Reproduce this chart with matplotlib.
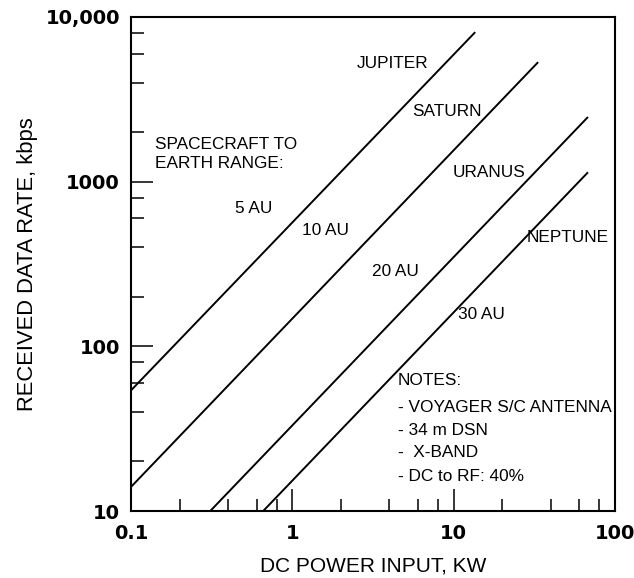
import matplotlib
matplotlib.use("Agg")
import matplotlib.pyplot as plt
from matplotlib.ticker import FixedLocator, NullFormatter

# Data: each line runs from (power_start, rate_start) to (power_end, rate_end)
planets = ["JUPITER", "SATURN", "URANUS", "NEPTUNE"]
ranges = ["5 AU", "10 AU", "20 AU", "30 AU"]
power_start = [0.1, 0.1, 0.31, 0.66]
rate_start = [54, 14, 10, 10]
power_end = [13.6, 33.4, 68, 68]
rate_end = [8090, 5320, 2470, 1140]

x_ticks = [0.1, 1, 10, 100]
x_tick_labels = ["0.1", "1", "10", "100"]
y_ticks = [10, 100, 1000, 10000]
y_tick_labels = ["10", "100", "1000", "10,000"]

notes = ["NOTES:", "- VOYAGER S/C ANTENNA", "- 34 m DSN", "-  X-BAND", "- DC to RF: 40%"]

# where the labels sit (data coordinates)
planet_label_pos = [(2.52, 5250), (5.52, 2650), (9.9, 1130), (28.5, 455)]
range_label_pos = [(0.44, 690), (1.15, 508), (3.12, 283), (10.6, 155)]
notes_x = 4.5
notes_y = [62, 42.8, 31, 22.8, 16.1]

plt.rcParams['font.family'] = ['Liberation Sans', 'DejaVu Sans']

fig = plt.figure(figsize=(6.34, 5.78), dpi=100)
ax = fig.add_axes([0.2066, 0.1159, 0.7634, 0.8547])

for x0, y0, x1, y1 in zip(power_start, rate_start, power_end, rate_end):
    ax.plot([x0, x1], [y0, y1], color='black', linewidth=1.4, solid_capstyle='butt')

for name, (px, py) in zip(planets, planet_label_pos):
    ax.text(px, py, name, fontsize=12.4, ha='left', va='center')
for name, (px, py) in zip(ranges, range_label_pos):
    ax.text(px, py, name, fontsize=12.4, ha='left', va='center')

ax.text(0.141, 1470, "SPACECRAFT TO\nEARTH RANGE:", fontsize=12.4, ha='left', va='center',
        linespacing=1.3)

for line, ny in zip(notes, notes_y):
    ax.text(notes_x, ny, line, fontsize=12.4, ha='left', va='center', clip_on=False)

ax.set_xscale('log')
ax.set_yscale('log')
ax.set_xlim(0.1, 100)
ax.set_ylim(10, 10000)

ax.xaxis.set_major_locator(FixedLocator(x_ticks))
ax.set_xticklabels(x_tick_labels)
ax.yaxis.set_major_locator(FixedLocator(y_ticks))
ax.set_yticklabels(y_tick_labels)

minor = [m * 10.0 ** e for e in range(-1, 4) for m in (2, 4, 6, 8)]
ax.xaxis.set_minor_locator(FixedLocator([v for v in minor if 0.1 < v < 100]))
ax.yaxis.set_minor_locator(FixedLocator([v for v in minor if 10 < v < 10000]))
ax.xaxis.set_minor_formatter(NullFormatter())
ax.yaxis.set_minor_formatter(NullFormatter())

ax.tick_params(which='major', direction='in', length=16, width=1.1, top=False, right=False)
ax.tick_params(which='minor', direction='in', length=9, width=1.1, top=False, right=False)
ax.tick_params(axis='y', which='major', pad=8)
ax.tick_params(axis='x', which='major', pad=9)
for lab in ax.get_xticklabels() + ax.get_yticklabels():
    lab.set_fontfamily('DejaVu Sans')
    lab.set_fontweight('bold')
    lab.set_fontsize(14)

for s in ax.spines.values():
    s.set_linewidth(1.5)

ax.set_xlabel("DC POWER INPUT, KW", fontsize=15, labelpad=10)
ax.set_ylabel("RECEIVED DATA RATE, kbps", fontsize=15.8, labelpad=5)

fig.savefig("out.png", dpi=100)
